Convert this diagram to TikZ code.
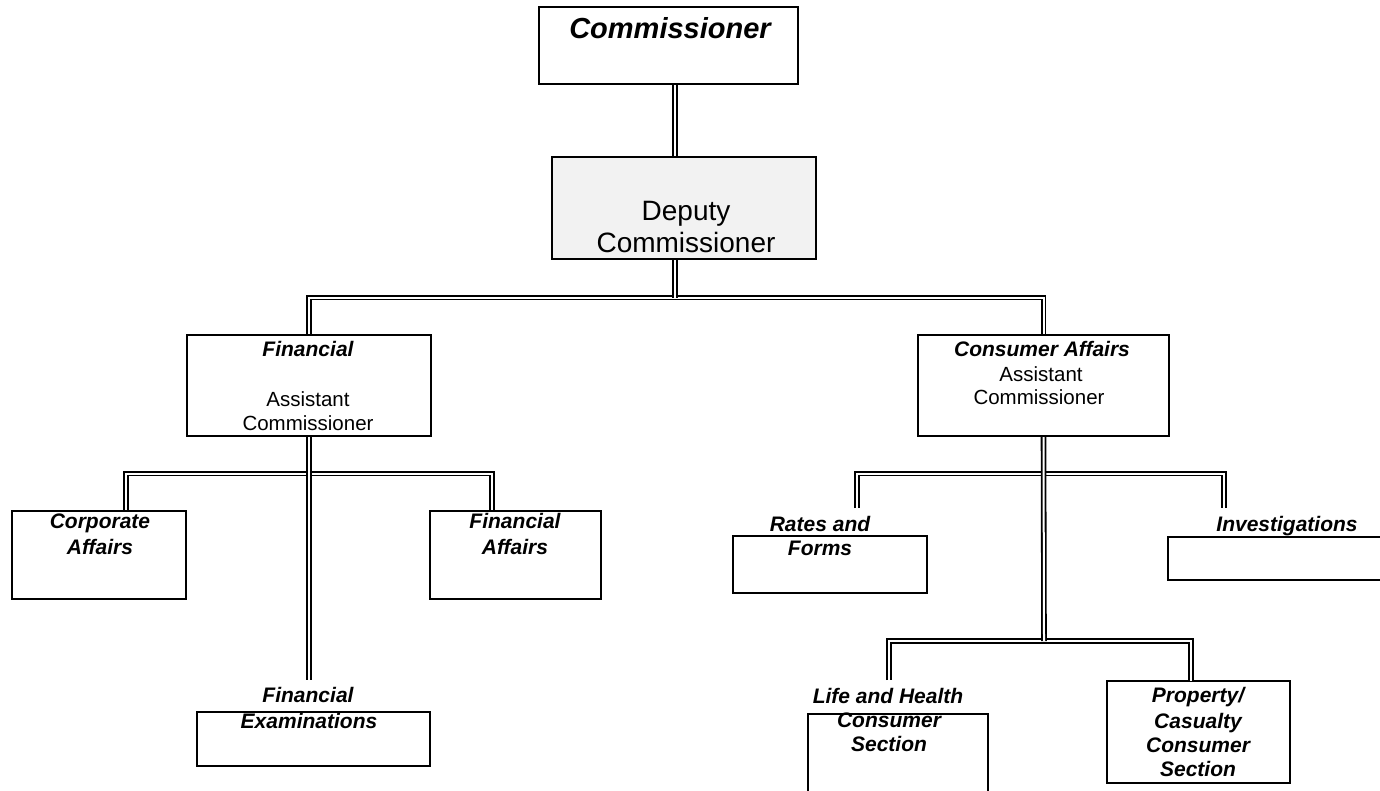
\documentclass[tikz,border=0pt]{standalone}
\usepackage{fontspec}
\setmainfont{Liberation Sans}
\begin{document}
\begin{tikzpicture}[x=1pt,y=-1pt,
  box/.style={draw=black, line width=2.4pt, fill=white, inner sep=0pt, rectangle},
  dbl/.style={draw=black, line width=1.8pt, double=white, double distance=2pt},
  bi/.style={font=\fontsize{21}{24}\selectfont\bfseries\itshape, anchor=base, inner sep=0pt},
  rg/.style={font=\fontsize{20.5}{24}\selectfont, anchor=base, inner sep=0pt}]
\useasboundingbox (0,0) rectangle (1380,790);
\fill[white] (0,0) rectangle (1380,790);

% boxes
\node[box, minimum width=259pt, minimum height=77pt] (com) at (668.5,45.5) {};
\node[box, fill={rgb,255:red,242;green,242;blue,242}, minimum width=264pt, minimum height=102pt] (dep) at (684,208) {};
\node[box, minimum width=244pt, minimum height=101pt] (fin) at (309,385.5) {};
\node[box, minimum width=251pt, minimum height=101pt] (con) at (1043.5,385.5) {};
\node[box, minimum width=174pt, minimum height=88pt] (corp) at (99,555) {};
\node[box, minimum width=171pt, minimum height=88pt] (faff) at (515.5,555) {};
\node[box, minimum width=233pt, minimum height=54pt] (fex) at (313.5,739) {};
\node[box, minimum width=194pt, minimum height=57pt] (rat) at (830,564.5) {};
\node[box, minimum width=217pt, minimum height=43pt] (inv) at (1276.5,558.5) {};
\node[box, minimum width=180pt, minimum height=81pt] (lif) at (898,754.5) {};
\node[box, minimum width=183pt, minimum height=102pt] (pro) at (1198.5,732) {};

% junction coordinates
\coordinate (b1) at (675,297.5);
\coordinate (ja) at (126,473.5);
\coordinate (jb) at (492,473.5);
\coordinate (jc) at (857,473.5);
\coordinate (jd) at (1224,473.5);
\coordinate (rT) at (857,508);
\coordinate (iT) at (1224,508);
\coordinate (fT) at (309,680);
\coordinate (lb) at (1044,641);
\coordinate (lT) at (889,680);
\coordinate (pT) at (1191,681);

% buses
\draw[dbl] (fin.north) |- (b1) -| (con.north);
\draw[dbl] (corp.north -| ja) -- (ja) -- (jb) -- (faff.north -| jb);
\draw[dbl] (rT) -- (jc) -- (jd) -- (iT);
\draw[dbl] (lT) |- (lb) -| (pT);
% verticals
\draw[dbl] (b1 |- com.south) -- (b1 |- dep.north);
\draw[dbl] (b1 |- dep.south) -- (b1);
\draw[dbl] (fin.south) -- (fT);
\draw[dbl] (con.south) -- (lb);

% texts
\node[font=\fontsize{29}{32}\selectfont\bfseries\itshape, anchor=base, inner sep=0pt] (t1) at (670,38) {Commissioner};
\node[font=\fontsize{28}{32}\selectfont, anchor=base, inner sep=0pt] (t2) at (686,220) {Deputy};
\node[font=\fontsize{28}{32}\selectfont, anchor=base, inner sep=0pt] (t3) at (686,252) {Commissioner};

\node[bi] (t4) at (308,356) {Financial};
\node[rg] (t5) at (308,406) {Assistant};
\node[rg] (t6) at (308,430) {Commissioner};

\node[bi] (t7) at (1042,356) {Consumer Affairs};
\node[rg] (t8) at (1041,381) {Assistant};
\node[rg] (t9) at (1039,404) {Commissioner};

\node[bi] (t10) at (100,528) {Corporate};
\node[bi] (t11) at (100,554) {Affairs};
\node[bi] (t12) at (515,528) {Financial};
\node[bi] (t13) at (515,554) {Affairs};

\node[bi] (t14) at (308,702) {Financial};
\node[bi] (t15) at (309,728) {Examinations};

\node[bi] (t16) at (820,531) {Rates and};
\node[bi] (t17) at (820,555) {Forms};
\node[bi] (t18) at (1287,531) {Investigations};

\node[bi] (t19) at (888,703) {Life and Health};
\node[bi] (t20) at (889,727) {Consumer};
\node[bi] (t21) at (889,751) {Section};

\node[bi] (t22) at (1198,702) {Property/};
\node[bi] (t23) at (1198,728) {Casualty};
\node[bi] (t24) at (1198,752) {Consumer};
\node[bi] (t25) at (1198,776) {Section};
\end{tikzpicture}
\end{document}
